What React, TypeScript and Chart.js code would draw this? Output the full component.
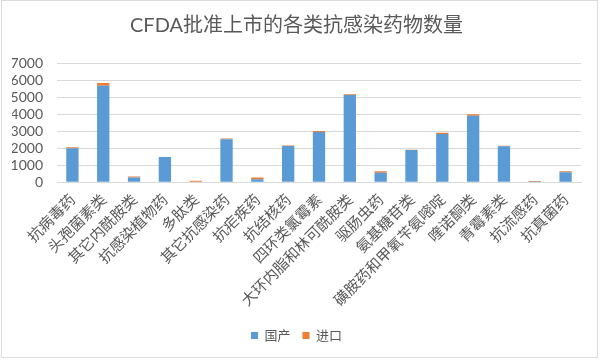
import React, { useEffect, useRef } from "react";
import { Chart, registerables } from "chart.js";

Chart.register(...registerables);

const titleText = "CFDA批准上市的各类抗感染药物数量";
const categories = [
  "抗病毒药",
  "头孢菌素类",
  "其它内酰胺类",
  "抗感染植物药",
  "多肽类",
  "其它抗感染药",
  "抗疟疾药",
  "抗结核药",
  "四环类氯霉素",
  "大环内脂和林可酰胺类",
  "驱肠虫药",
  "氨基糖苷类",
  "磺胺药和甲氧苄氨嘧啶",
  "喹诺酮类",
  "青霉素类",
  "抗流感药",
  "抗真菌药",
];
const seriesNames = ["国产", "进口"];
const domestic = [2000, 5670, 280, 1480, 20, 2520, 170, 2120, 2950, 5120, 550, 1890, 2830, 3900, 2110, 5, 580];
const imported = [50, 160, 50, 5, 70, 40, 110, 40, 60, 50, 90, 10, 70, 90, 30, 55, 60];
const yMax = 7000;
const yStep = 1000;

const BLUE = "#5B9BD5";
const ORANGE = "#ED7D31";
const TEXT = "#595959";
const GRID = "#D9D9D9";

export default function App() {
  const ref = useRef<HTMLCanvasElement | null>(null);

  useEffect(() => {
    document.body.style.margin = "0";
    if (!ref.current) return;
    const chart = new Chart(ref.current, {
      type: "bar",
      data: {
        labels: categories,
        datasets: [
          { label: seriesNames[0], data: domestic, backgroundColor: BLUE, borderWidth: 0 },
          { label: seriesNames[1], data: imported, backgroundColor: ORANGE, borderWidth: 0 },
        ],
      },
      options: {
        responsive: false,
        animation: false,
        layout: { padding: { left: 12, right: 19, top: 0, bottom: 8 } },
        datasets: {
          bar: { categoryPercentage: 1, barPercentage: 0.4 },
        },
        plugins: {
          title: {
            display: true,
            text: titleText,
            color: TEXT,
            font: { family: "Lato, 'Noto Sans CJK SC', sans-serif", size: 20, weight: "normal" },
            padding: { top: 14, bottom: 25 },
          },
          legend: {
            position: "bottom",
            labels: {
              color: TEXT,
              boxWidth: 7,
              boxHeight: 7,
              padding: 12,
              font: { family: "'Noto Sans CJK SC', sans-serif", size: 13 },
            },
          },
          tooltip: { enabled: false },
        },
        scales: {
          x: {
            stacked: true,
            grid: { display: false, drawTicks: false },
            border: { display: true, color: GRID },
            afterFit: (scale: any) => {
              scale.paddingLeft = 0;
              scale.paddingRight = 0;
            },
            ticks: {
              color: TEXT,
              minRotation: 45,
              maxRotation: 45,
              autoSkip: false,
              padding: 8,
              font: { family: "'Noto Sans CJK SC', sans-serif", size: 15 },
            },
          },
          y: {
            stacked: true,
            min: 0,
            max: yMax,
            grid: { color: GRID, drawTicks: false },
            border: { display: false },
            afterFit: (scale: any) => {
              scale.width = 45;
            },
            ticks: {
              stepSize: yStep,
              autoSkip: false,
              color: TEXT,
              padding: 14,
              font: { family: "Lato, 'Open Sans', sans-serif", size: 14 },
              callback: (v: any) => String(v),
            },
          },
        },
      },
    });
    return () => chart.destroy();
  }, []);

  return (
    <div style={{ position: "relative", width: 600, height: 360 }}>
      <canvas ref={ref} width={600} height={360} style={{ display: "block" }} />
      <div
        style={{
          position: "absolute",
          left: 1,
          top: 0,
          width: 597,
          height: 358,
          border: "1px solid #DCDCDC",
          boxSizing: "border-box",
          pointerEvents: "none",
        }}
      />
    </div>
  );
}
